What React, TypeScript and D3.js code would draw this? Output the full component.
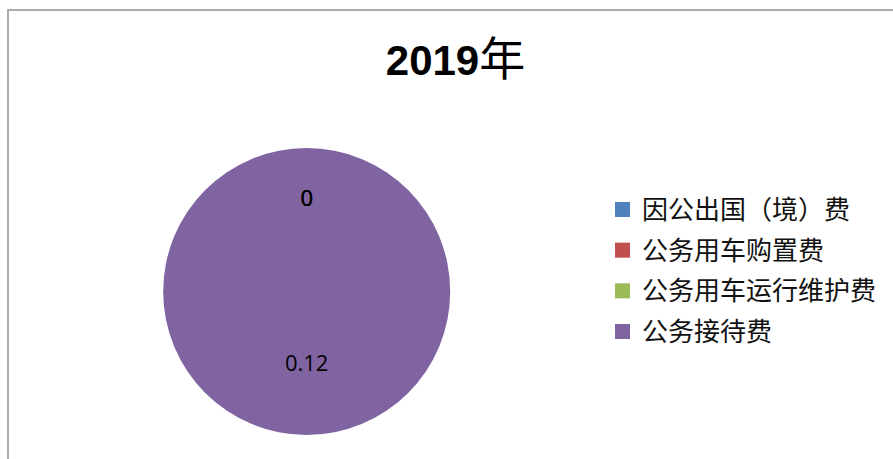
import React from "react";
import * as d3 from "d3";

const title = "2019";
const titleSuffix = "年";
const categories = ["因公出国（境）费", "公务用车购置费", "公务用车运行维护费", "公务接待费"];
const values = [0, 0, 0, 0.12];
const colors = ["#4F81BD", "#C0504D", "#9BBB59", "#8064A2"];

export default function App() {
  const W = 893, H = 459;
  const cx = 306.7, cy = 291.5, r = 143.5;
  const data = categories.map((c, i) => ({ name: c, value: values[i], color: colors[i] }));
  const pie = d3.pie<any>().value((d: any) => d.value).sort(null);
  const arcs = pie(data);
  const arc = d3.arc<any>().innerRadius(0).outerRadius(r);
  const labelArc = d3.arc<any>().innerRadius(0).outerRadius(r);
  const zeroArc = d3.arc<any>().innerRadius(r * 0.65).outerRadius(r * 0.65);

  const legY = d3.scaleLinear().domain([0, categories.length - 1]).range([210, 332]);

  return (
    <svg width={W} height={H} style={{ position: "absolute", left: 0, top: 0, background: "#fff" }}>
      <rect x={0} y={0} width={W} height={H} fill="#fff" />
      <rect x={8} y={10} width={W + 20} height={H + 20} fill="none" stroke="#a3a3a3" strokeWidth={1.8} />
      <text x={455.5} y={75} textAnchor="middle" fill="#000">
        <tspan fontFamily="'Liberation Sans', Arial, sans-serif" fontWeight="bold" fontSize={42}>{title}</tspan>
        <tspan fontFamily="'Noto Sans CJK SC', sans-serif" fontSize={46} fontWeight="normal">{titleSuffix}</tspan>
      </text>
      <g transform={`translate(${cx},${cy})`}>
        {arcs.map((a, i) => (
          <path key={i} d={arc(a) || ""} fill={a.data.color} />
        ))}
        {arcs.map((a, i) => {
          const [lx, ly] = a.data.value === 0 ? zeroArc.centroid(a) : labelArc.centroid(a);
          return (
            <text key={"l" + i} x={lx} y={ly} dy="0.36em" textAnchor="middle"
              fontFamily="'Open Sans', 'Liberation Sans', sans-serif" fontSize={22} fill="#000">
              {d3.format("")(a.data.value)}
            </text>
          );
        })}
      </g>
      <g>
        {categories.map((c, i) => (
          <g key={c} transform={`translate(615,${legY(i)})`}>
            <rect x={0} y={-8} width={15} height={15} fill={colors[i]} />
            <text x={27} y={9} fontFamily="'Noto Sans CJK SC', sans-serif" fontSize={26} fill="#111">{c}</text>
          </g>
        ))}
      </g>
    </svg>
  );
}
